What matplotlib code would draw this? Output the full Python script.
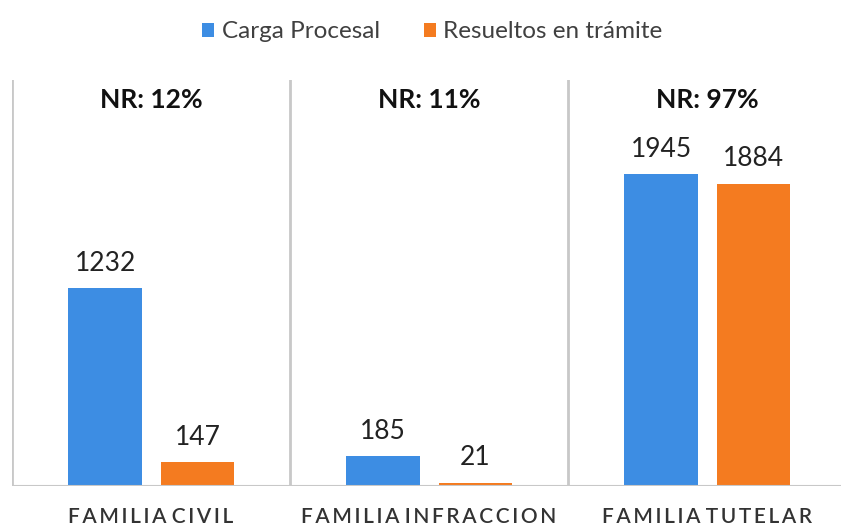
import numpy as np
import matplotlib.pyplot as plt

plt.rcParams['font.family'] = ['Lato', 'DejaVu Sans']

categorias = ["FAMILIA CIVIL", "FAMILIA INFRACCION", "FAMILIA TUTELAR"]
carga = [1232, 185, 1945]
resueltos = [147, 21, 1884]
nr = ["NR: 12%", "NR: 11%", "NR: 97%"]

azul = "#3d8de3"
naranja = "#f47b20"

fig = plt.figure(figsize=(8.41, 5.27), dpi=100)
ax = fig.add_axes([12/841, (527-486)/527, 834/841, 406/527])

x = np.arange(len(categorias))
w = 0.265
b1 = ax.bar(x - 0.165, carga, w, color=azul, label="Carga Procesal")
b2 = ax.bar(x + 0.167, resueltos, w, color=naranja, label="Resueltos en trámite")

for rect, v in zip(list(b1) + list(b2), carga + resueltos):
    ax.annotate(str(v), (rect.get_x() + rect.get_width()/2, v),
                xytext=(0, 9), textcoords="offset points",
                ha="center", va="bottom", fontsize=19, color="#222222")

for i, t in enumerate(nr):
    ax.text(i, 0.95, t, transform=ax.get_xaxis_transform(), ha="center",
            va="center", fontsize=19, fontweight="bold", color="#111111")

for b in [-0.5, 0.5, 1.5, 2.5]:
    ax.axvline(b, color="#c8c8c8", lw=2)
ax.axhline(0, color="#c8c8c8", lw=1.5)

ax.set_xlim(-0.5, 2.5)
ax.set_ylim(0, 2531)
for s in ax.spines.values():
    s.set_visible(False)
ax.set_yticks([])
ax.set_xticks(x)
# letter-spaced labels, tight word gap
etiquetas = [" ".join("\u2009".join(p) for p in c.split()) for c in categorias]
ax.set_xticklabels(etiquetas, fontsize=15, color="#333333", fontweight="semibold")
ax.tick_params(axis="x", length=0, pad=15)

fig.legend(handles=[b1, b2], loc="center", bbox_to_anchor=(0.514, 1 - 32/527),
           ncol=2, frameon=False, fontsize=17.5, handlelength=0.5,
           handleheight=0.5, handletextpad=0.3, columnspacing=1.8,
           labelcolor="#404040")

fig.savefig("out.png", dpi=100)
